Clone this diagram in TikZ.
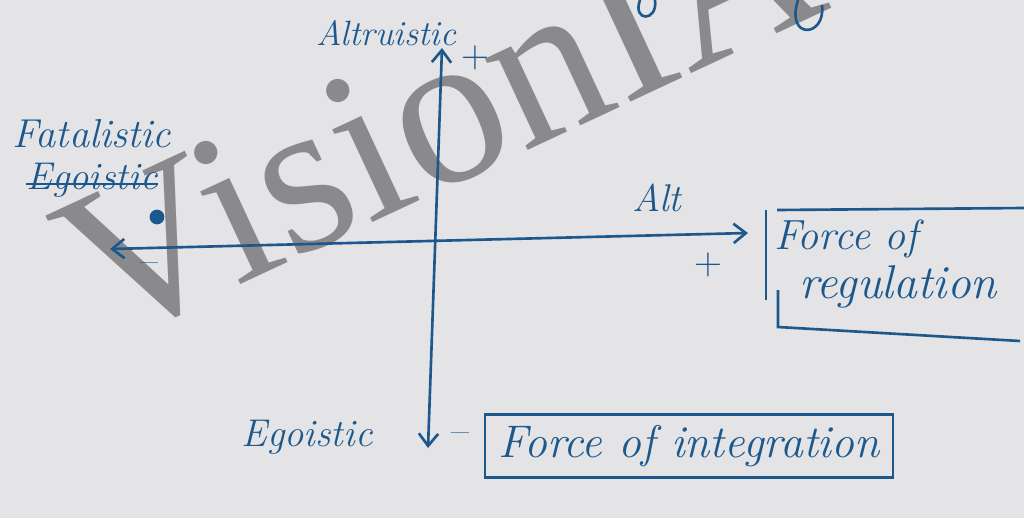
\documentclass[tikz,border=0pt]{standalone}
\usepackage{fontspec}
\usepackage{xcolor}
\usetikzlibrary{arrows.meta,positioning,calc}
\newfontfamily\wmfont{Liberation Serif}
\definecolor{ink}{RGB}{28,88,140}
\definecolor{paper}{RGB}{228,228,231}
\definecolor{wmgray}{RGB}{138,138,141}
\tikzset{
  hand/.style={text=ink, font=\itshape\fontsize{22}{26}\selectfont, inner sep=1pt},
  sign/.style={text=ink, font=\fontsize{22}{26}\selectfont, inner sep=1pt},
  pen/.style={draw=ink, line width=1.5pt},
  axis/.style={pen, {Straight Barb[length=7pt,width=11pt]}-{Straight Barb[length=7pt,width=11pt]}},
}
\begin{document}
\begin{tikzpicture}[x=0.02cm,y=-0.02cm]
  \fill[paper] (0,0) rectangle (1024,518);
  \useasboundingbox (0,0) rectangle (1024,518);

  % watermark
  \node[text=wmgray, font=\wmfont\fontsize{125}{125}\selectfont, rotate=25,
        anchor=base west, inner sep=0pt] (mark) at (104,348) {VisionIAS};

  % bits of the line above
  \draw[pen] (640,0) .. controls (632,22) and (658,22) .. (655,0);
  \draw[pen] (798,0) .. controls (785,40) and (826,38) .. (822,5);

  % axes
  \coordinate (top) at (442,48);
  \coordinate (bottom) at (428,448);
  \coordinate (left) at (110,249);
  \coordinate (right) at (748,233);
  \draw[axis] (bottom) -- (top);
  \draw[axis] (left) -- (right);

  \node[sign] (ptop) at (475,58) {+};
  \node[sign] (pright) at (708,265) {+};
  \node[sign] (mleft) at (149,268) {--};
  \node[sign] (mbot) at (460,438) {--};

  % labels
  \node[hand, font=\itshape\fontsize{20}{24}\selectfont] (altr) at (386,33) {Altruistic};
  \node[hand] (alt) at (657,198) {Alt};
  \node[hand, font=\itshape\fontsize{23}{26}\selectfont] (fatal) at (92,134) {Fatalistic};
  \node[hand] (egocut) at (92,180) {Egoistic};
  \draw[pen] ($(egocut.west)+(2,4)$) -- ($(egocut.east)+(-2,4)$);
  \fill[ink] (157,217) circle[radius=4.2pt];
  \node[hand] (egobot) at (307,437) {Egoistic};

  % force of regulation
  \node[hand, align=left, anchor=north west, font=\itshape\fontsize{24}{28}\selectfont] (reg) at (772,218) {Force of\\\hspace{0.6em}{\fontsize{27}{28}\selectfont regulation}};
  \draw[pen] (766,210) -- (766,300);
  \draw[pen] (777,210) -- (1024,208);
  \draw[pen] (778,290) -- (778,327) -- (1020,341);

  % force of integration
  \node[hand, draw=ink, line width=1.5pt, font=\itshape\fontsize{26}{30}\selectfont,
        minimum width=8.16cm, minimum height=1.26cm] (integ) at (689,446) {Force of integration};
\end{tikzpicture}
\end{document}
